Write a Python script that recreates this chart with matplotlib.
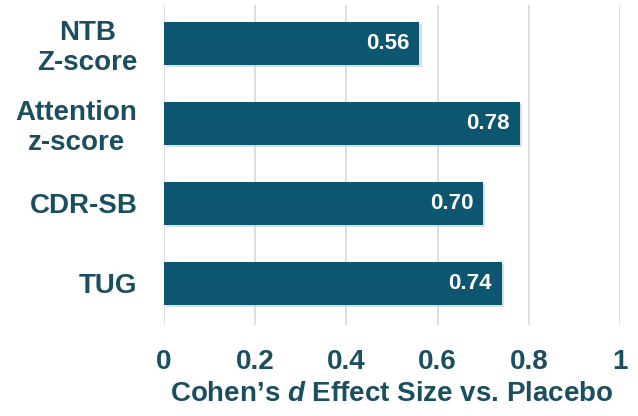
import matplotlib.pyplot as plt
import matplotlib.patheffects as pe

# chart data
measures = ['NTB\nZ-score', 'Attention\nz-score', 'CDR-SB', 'TUG']
effect_sizes = [0.56, 0.78, 0.70, 0.74]
x_ticks = [0, 0.2, 0.4, 0.6, 0.8, 1]
x_tick_labels = ['0', '0.2', '0.4', '0.6', '0.8', '1']

bar_color = '#0d566f'
text_color = '#1b4f60'

plt.rcParams['font.family'] = ['Liberation Sans', 'DejaVu Sans']
plt.rcParams['font.weight'] = 'bold'
plt.rcParams['mathtext.fontset'] = 'custom'
plt.rcParams['mathtext.rm'] = 'Liberation Sans:bold'
plt.rcParams['mathtext.bfit'] = 'Liberation Sans:italic:bold'

fig = plt.figure(figsize=(6.38, 4.16), dpi=100)
ax = fig.add_axes([0.257, 0.219, 0.715, 0.769])

y_pos = list(range(len(measures)))
bars = ax.barh(y_pos, effect_sizes, height=0.54, color=bar_color, zorder=3)
for b in bars:
    b.set_path_effects([pe.SimplePatchShadow(offset=(1.5, -1.5), shadow_rgbFace='#b0b8bb', alpha=0.45), pe.Normal()])

# value labels inside the bars
for y, v in zip(y_pos, effect_sizes):
    ax.text(v - 0.022, y, '%.2f' % v, ha='right', va='center', color='white',
            fontsize=16, fontweight='bold', zorder=4)

ax.set_xlim(0, 1.0)
ax.set_ylim(3.52, -0.48)
ax.set_xticks(x_ticks)
ax.set_xticklabels(x_tick_labels)
ax.set_yticks(y_pos)
ax.set_yticklabels(measures, multialignment='center', linespacing=1.2)

ax.tick_params(axis='x', length=0, pad=17, labelsize=20, labelcolor=text_color)
ax.tick_params(axis='y', length=0, pad=19, labelsize=20, labelcolor=text_color)

ax.grid(axis='x', color='#d9d9de', linewidth=1.2, zorder=0)
ax.grid(axis='y', visible=False)
for s in ax.spines.values():
    s.set_visible(False)

ax.set_xlabel("Cohen\u2019s $\\mathbfit{d}$ Effect Size vs. Placebo", fontsize=20,
              color=text_color, fontweight='bold', labelpad=5)

plt.savefig('out.png', dpi=100)
